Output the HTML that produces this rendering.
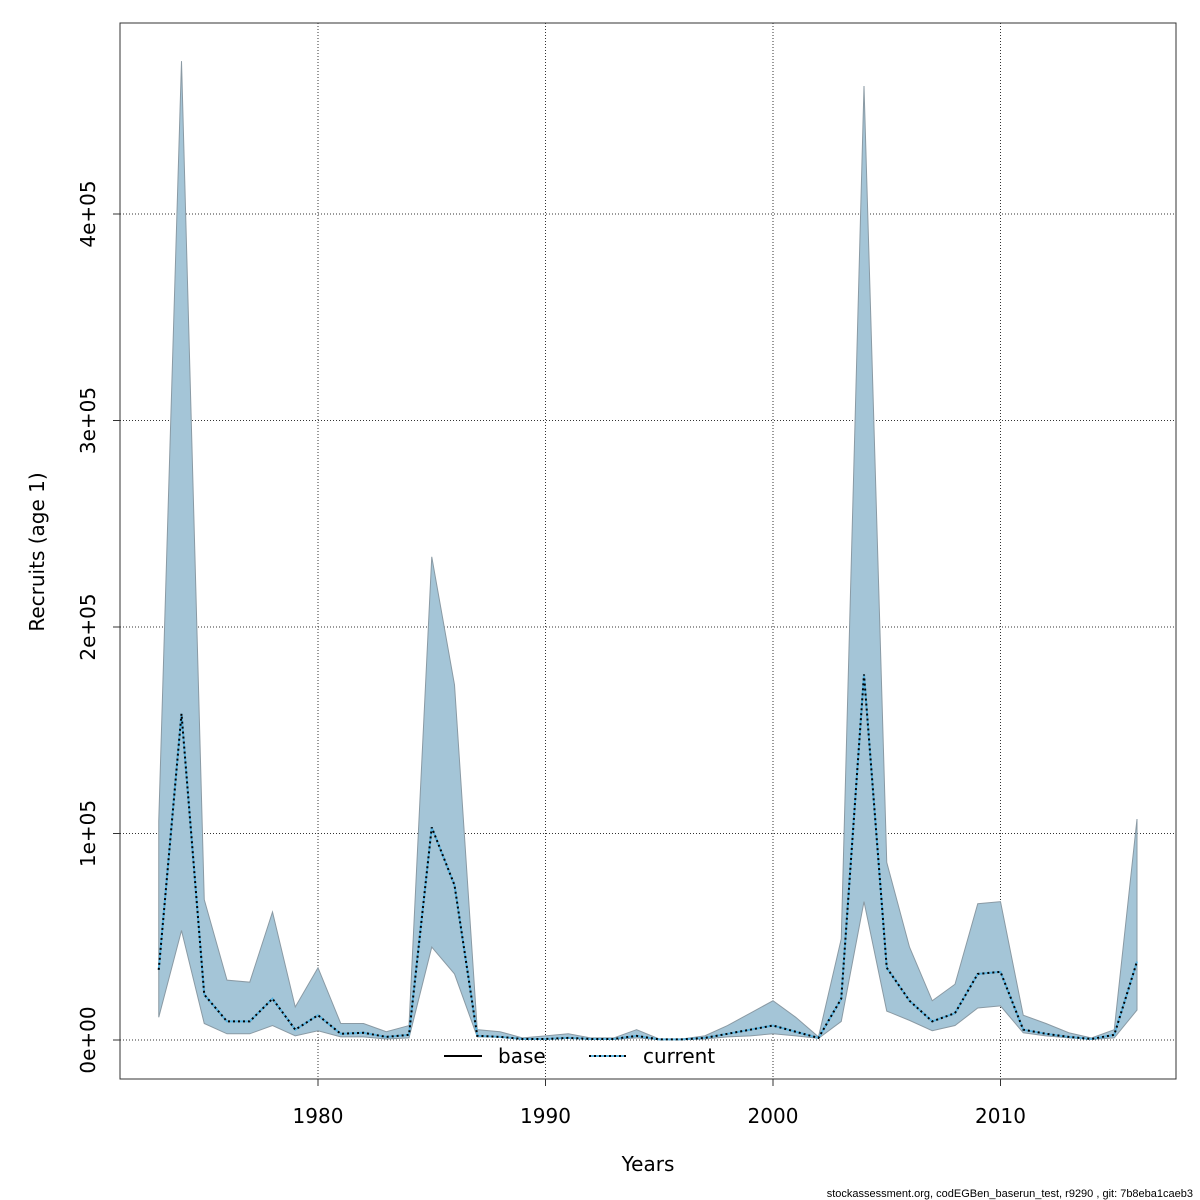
<!DOCTYPE html>
<html><head><meta charset="utf-8"><style>
html,body{margin:0;padding:0;background:#fff}
svg{display:block;font-family:"DejaVu Sans","Liberation Sans",sans-serif}
</style></head><body>
<svg id="chart" width="1200" height="1200" viewBox="0 0 1200 1200">
<rect x="0" y="0" width="1200" height="1200" fill="#fff"/>
<g id="grid"></g>
<g id="band"></g>
<g id="lines"></g>
<rect x="120" y="23" width="1056" height="1056" fill="none" stroke="#333" stroke-width="1"/>
<g id="axes"></g>
<text x="44" y="552" font-size="20" text-anchor="middle" transform="rotate(-90 44 552)">Recruits (age 1)</text>
<text x="648" y="1171" font-size="20" text-anchor="middle">Years</text>
<g>
<line x1="444" y1="1056" x2="482" y2="1056" stroke="#000" stroke-width="2"/>
<text x="498" y="1063" font-size="20">base</text>
<line x1="589" y1="1056" x2="626" y2="1056" stroke="#5ab4e0" stroke-width="2"/>
<line x1="589" y1="1056" x2="626" y2="1056" stroke="#000" stroke-width="2" stroke-dasharray="2,3"/>
<text x="643" y="1063" font-size="20">current</text>
</g>
<text x="1193" y="1197" font-size="11" text-anchor="end" font-family="Liberation Sans, sans-serif">stockassessment.org, codEGBen_baserun_test, r9290 , git: 7b8eba1caeb3</text>
</svg>
<script>
const years = [];
for (let y = 1973; y <= 2016; y++) years.push(y);
const upper = [106,474,68,29,28,62,16,35,8,8,4,7,234,172,5,4,1,2,3,1,1,5,0.5,0.5,2,7,13,19,11,1.5,49,462,86,45,19,27,66,67,12,8,3.5,1,5,107];
const lower = [11,53,8,3,3,7,2,4.5,1.5,1.5,0.5,1,45,32,1.5,1.5,0.3,0.5,1,0.3,0.3,1,0.2,0.2,0.5,1.5,2,3,2,0.8,9,67,14,9.5,4.5,7,15.5,16.5,3.5,2,1,0.3,1,14.5];
const current = [34,158,22,9,9,20,5,12,3,3.5,1.5,2.5,103,75,2,1.5,0.5,0.5,1,0.5,0.5,2,0.3,0.3,1,3,5,7,4,1,20,177,35,19,9,13,32,33,5,3,1.5,0.5,2.5,38];
const xTicks = [1980,1990,2000,2010];
const yTicks = [0,100,200,300,400];
const yTickLabels = ["0e+00","1e+05","2e+05","3e+05","4e+05"];

const NS = "http://www.w3.org/2000/svg";
const xs = yr => 318 + (yr - 1980) * 22.75;
const ys = v => 1040 - v * 2.065;
function mk(tag, attrs, parent){const e=document.createElementNS(NS,tag);for(const k in attrs)e.setAttribute(k,attrs[k]);parent.appendChild(e);return e;}

const grid = document.getElementById('grid');
const axes = document.getElementById('axes');
xTicks.forEach(t=>{
  const g = mk('line',{x1:xs(t),x2:xs(t),y1:23,y2:1079,stroke:'#333','stroke-width':1,'stroke-dasharray':'1,2'},grid);
  
  
  const tk = mk('line',{x1:xs(t),x2:xs(t),y1:1079,y2:1086,stroke:'#333'},axes);
  
  
  const tx = mk('text',{x:xs(t),y:1123,'font-size':20,'text-anchor':'middle'},axes);
  tx.textContent = t;
  
  
});
yTicks.forEach((t,i)=>{
  const g = mk('line',{x1:120,x2:1176,y1:ys(t),y2:ys(t),stroke:'#333','stroke-width':1,'stroke-dasharray':'1,2'},grid);
  
  
  const tk = mk('line',{x1:113,x2:120,y1:ys(t),y2:ys(t),stroke:'#333'},axes);
  
  
  const tx = mk('text',{x:95,y:ys(t),'font-size':20,'text-anchor':'middle',transform:`rotate(-90 95 ${ys(t)})`},axes);
  tx.textContent = yTickLabels[i];
  
  
});

const band = document.getElementById('band');
let pts = years.map((y,i)=>xs(y)+','+ys(upper[i]));
for (let i=years.length-1;i>=0;i--) pts.push(xs(years[i])+','+ys(lower[i]));
const poly = mk('polygon',{points:pts.join(' '),fill:'#a4c5d7',stroke:'#8a9aa4','stroke-width':1},band);



const lines = document.getElementById('lines');
const cp = years.map((y,i)=>xs(y)+','+ys(current[i])).join(' ');
const l1 = mk('polyline',{points:cp,fill:'none',stroke:'#5ab4e0','stroke-width':2},lines);


const l2 = mk('polyline',{points:cp,fill:'none',stroke:'#000','stroke-width':2,'stroke-dasharray':'2,3'},lines);


</script>
</body></html>
